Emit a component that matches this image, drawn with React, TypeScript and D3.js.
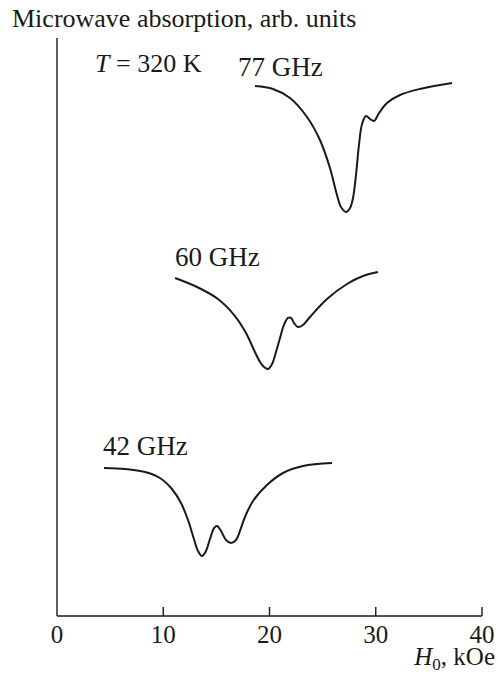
import React from "react";
import * as d3 from "d3";

// Magnetic field H0 (kOe) and absorption (arb. units) for each frequency
const field77 = [18.64, 20.33, 21.93, 23.53, 24.75, 25.69, 26.35, 26.73, 27.2, 27.58, 27.86, 28.14, 28.42, 28.71, 29.08, 29.46, 29.84, 30.31, 31.06, 32.28, 34.16, 37.18];
const absorb77 = [91.7, 91.18, 89.62, 86.33, 82.35, 77.51, 72.84, 70.76, 69.9, 70.59, 72.32, 76.3, 81.49, 85.12, 86.51, 85.99, 85.64, 87.02, 88.75, 90.14, 91.18, 92.21];

const field60 = [11.11, 13.18, 15.15, 16.75, 17.79, 18.54, 19.11, 19.48, 19.86, 20.24, 20.61, 20.99, 21.36, 21.74, 22.02, 22.31, 22.68, 23.15, 23.81, 25.41, 27.29, 28.8, 30.21];
const absorb60 = [58.48, 56.92, 54.84, 51.9, 48.96, 46.02, 43.94, 43.08, 42.73, 43.6, 45.67, 48.1, 50.35, 51.56, 51.56, 50.69, 50.0, 50.35, 51.73, 54.84, 57.44, 58.82, 59.52];

const field42 = [4.42, 6.4, 8.28, 9.69, 10.82, 11.67, 12.33, 12.89, 13.27, 13.65, 14.02, 14.4, 14.78, 15.06, 15.44, 15.91, 16.38, 16.85, 17.22, 17.69, 18.45, 19.76, 21.27, 23.15, 25.88];
const absorb42 = [25.61, 25.43, 24.91, 23.88, 21.97, 19.55, 16.61, 13.32, 11.25, 10.38, 11.25, 13.32, 15.22, 15.57, 14.71, 13.15, 12.63, 13.15, 14.71, 17.13, 19.9, 22.66, 24.74, 25.95, 26.47];

const xTicks = [0, 10, 20, 30, 40];
const curveLabels = ["77 GHz", "60 GHz", "42 GHz"];

const W = 498;
const H = 676;
const FONT = "'Liberation Serif', 'Times New Roman', serif";

export default function App() {
  const x = d3.scaleLinear().domain([0, 40]).range([57, 482]);
  const y = d3.scaleLinear().domain([0, 100]).range([616, 38]);

  const line = d3
    .line<[number, number]>()
    .x((d) => x(d[0]))
    .y((d) => y(d[1]))
    .curve(d3.curveCatmullRom.alpha(0.5));

  const series = [
    { f: field77, a: absorb77 },
    { f: field60, a: absorb60 },
    { f: field42, a: absorb42 },
  ];

  const labelPos = [
    { x: 238, y: 76 },
    { x: 175, y: 266 },
    { x: 103, y: 455 },
  ];

  const color = "#1a1a1a";

  return (
    <svg
      width={W}
      height={H}
      style={{ position: "absolute", left: 0, top: 0, background: "#fff" }}
      fontFamily={FONT}
    >
      <text x={12} y={27} fontSize={26} fill={color}>
        Microwave absorption, arb. units
      </text>

      {/* axes */}
      <line x1={x(0)} x2={x(0)} y1={y(100)} y2={y(0)} stroke={color} strokeWidth={1.4} />
      <line x1={x(0)} x2={x(40)} y1={y(0)} y2={y(0)} stroke={color} strokeWidth={1.4} />
      {xTicks.map((t) => (
        <g key={t}>
          {t > 0 && (
            <line x1={x(t)} x2={x(t)} y1={y(0)} y2={y(0) - 9} stroke={color} strokeWidth={1.4} />
          )}
          <text x={x(t)} y={643} fontSize={25} textAnchor="middle" fill={color}>
            {t}
          </text>
        </g>
      ))}
      <text x={495} y={665} fontSize={25} textAnchor="end" fill={color}>
        <tspan fontStyle="italic">H</tspan>
        <tspan fontSize={17} dy={5}>0</tspan>
        <tspan dy={-5}>, kOe</tspan>
      </text>

      <text x={95} y={72} fontSize={26} fill={color}>
        <tspan fontStyle="italic">T</tspan> = 320 K
      </text>

      {series.map((s, i) => (
        <g key={curveLabels[i]}>
          <path
            d={line(s.f.map((v, j) => [v, s.a[j]] as [number, number])) || ""}
            fill="none"
            stroke={color}
            strokeWidth={2}
            strokeLinejoin="round"
          />
          <text x={labelPos[i].x} y={labelPos[i].y} fontSize={27} fill={color}>
            {curveLabels[i]}
          </text>
        </g>
      ))}
    </svg>
  );
}
